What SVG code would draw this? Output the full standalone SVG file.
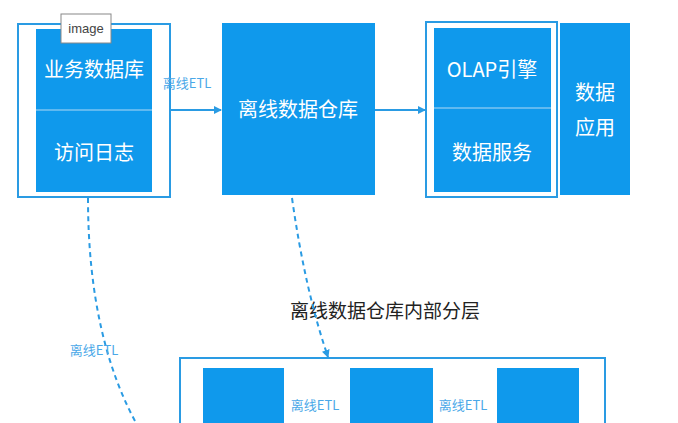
<svg xmlns="http://www.w3.org/2000/svg" width="678" height="423" viewBox="0 0 678 423">
<defs>
<style>
.b{fill:#0f99ec}
.o{fill:none;stroke:#2a9be3;stroke-width:2}
.w{font-family:"Noto Sans CJK SC","Noto Sans",sans-serif;fill:#fff;font-size:20px;text-anchor:middle}
.l{font-family:"Noto Sans CJK SC","Noto Sans",sans-serif;fill:#4aa8e8;font-size:13px;text-anchor:middle}
.c{fill:none;stroke:#2a9be3;stroke-width:2}
.d{fill:none;stroke:#2a9be3;stroke-width:2;stroke-dasharray:5 4}
</style>
<marker id="a" markerWidth="8" markerHeight="8" refX="7" refY="4" orient="auto" markerUnits="userSpaceOnUse"><path d="M0,0L8,4L0,8z" fill="#2a9be3"/></marker>
</defs>
<rect width="678" height="423" fill="#fff"/>
<g id="source">
<rect class="o" x="18" y="24" width="152" height="173"/>
<rect class="b" x="36" y="29" width="116" height="163"/>
<line x1="36" y1="110" x2="152" y2="110" stroke="#7cc4f2" stroke-width="1.5"/>
<text class="w" x="94" y="77">业务数据库</text>
<text class="w" x="94" y="160">访问日志</text>
<rect x="61" y="14" width="50" height="29" fill="#fff" stroke="#888" stroke-width="1"/>
<text x="86" y="33" font-family="Liberation Sans,sans-serif" font-size="13" fill="#444" text-anchor="middle">image</text>
</g>
<g id="warehouse">
<rect class="b" x="222" y="23" width="153" height="172"/>
<text class="w" x="298" y="117">离线数据仓库</text>
</g>
<g id="serve">
<rect class="o" x="426" y="22" width="131" height="175"/>
<rect class="b" x="434" y="28" width="117" height="164"/>
<line x1="434" y1="108" x2="551" y2="108" stroke="#7cc4f2" stroke-width="1.5"/>
<text class="w" x="492" y="77">OLAP引擎</text>
<text class="w" x="492" y="160">数据服务</text>
</g>
<g id="app">
<rect class="b" x="560" y="23" width="70" height="172"/>
<text class="w" x="595" y="100">数据</text>
<text class="w" x="595" y="135">应用</text>
</g>
<g id="layers">
<text x="385" y="318" font-family="Noto Sans CJK SC,sans-serif" font-size="19" fill="#222" text-anchor="middle">离线数据仓库内部分层</text>
<rect class="o" x="180" y="358" width="425" height="80"/>
<rect class="b" x="203" y="368" width="81" height="70"/>
<rect class="b" x="350" y="368" width="83" height="70"/>
<rect class="b" x="497" y="368" width="82" height="70"/>
<text class="l" x="315" y="410">离线ETL</text>
<text class="l" x="463" y="410">离线ETL</text>
</g>
<g id="connectors">
<line class="c" x1="170" y1="110" x2="221" y2="110" marker-end="url(#a)"/>
<text class="l" x="187" y="88">离线ETL</text>
<line class="c" x1="375" y1="110" x2="425" y2="110" marker-end="url(#a)"/>
<path class="d" d="M292,198 Q305,290 328,357" marker-end="url(#a)"/>
<path class="d" d="M88,198 Q88,340 140,430"/>
<text class="l" x="94" y="355">离线ETL</text>
</g>
</svg>
